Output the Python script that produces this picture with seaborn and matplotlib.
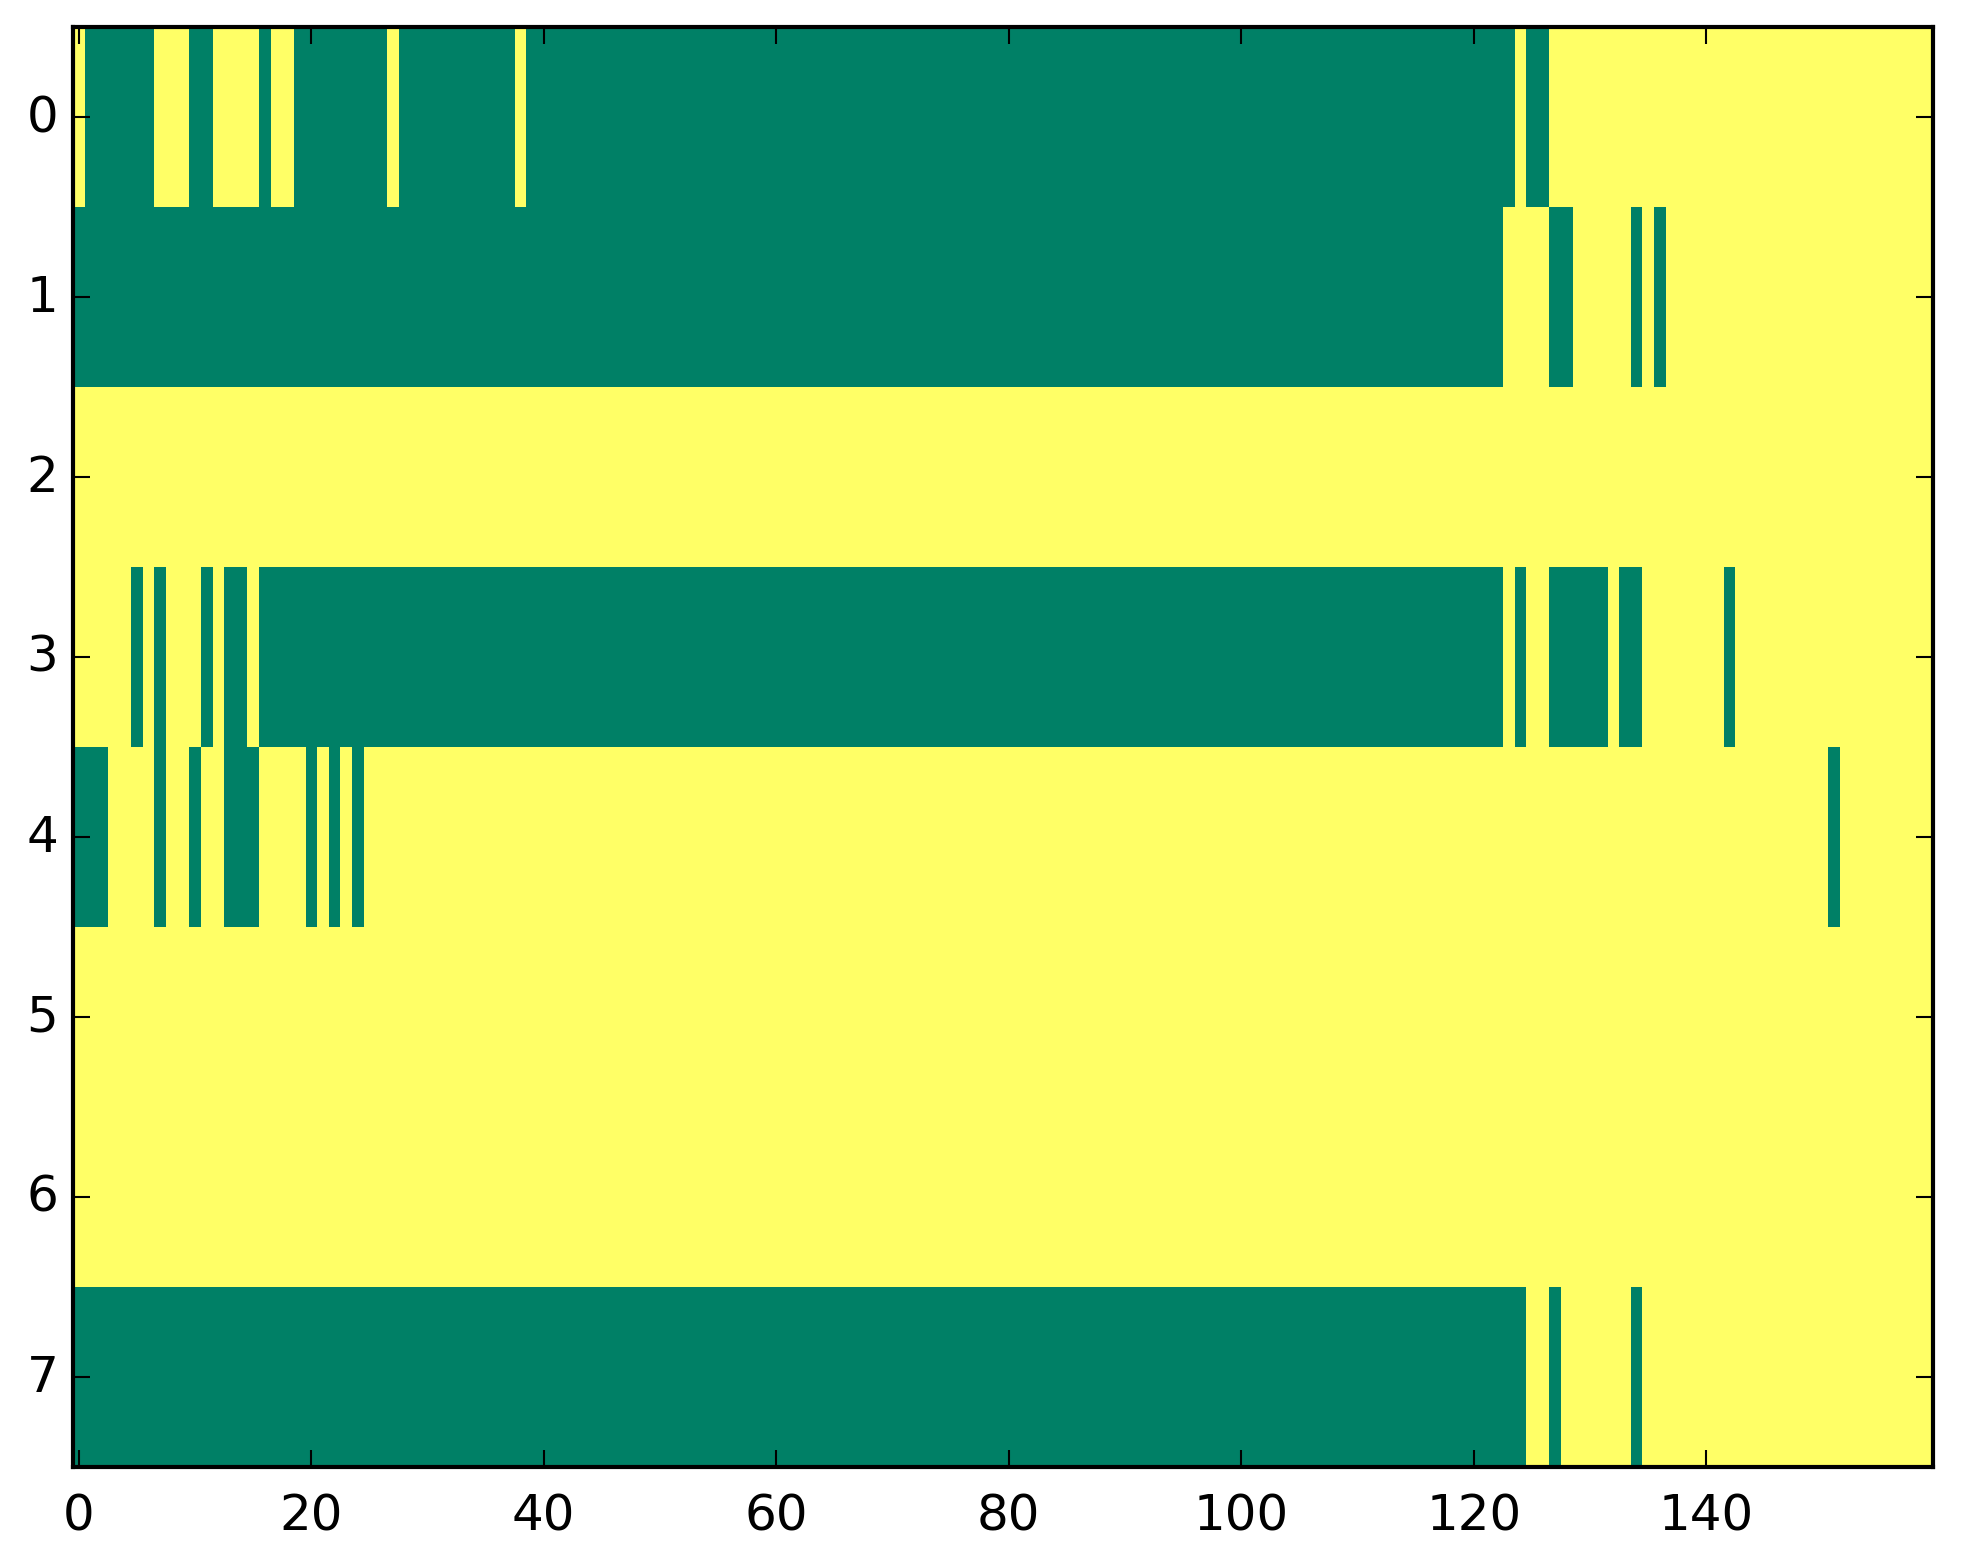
import numpy as np
import matplotlib
matplotlib.use("Agg")
import matplotlib.pyplot as plt
import seaborn as sns

# Data: binary matrix 8 rows x 160 columns; 0 = green (low), 1 = yellow (high)
n_rows = 8
n_cols = 160
# Columns (inclusive ranges) whose value is 0 in each row; everything else is 1
row0_zero = [(1, 6), (10, 11), (16, 16), (19, 26), (28, 37), (39, 123), (125, 126)]
row1_zero = [(0, 122), (127, 128), (134, 134), (136, 136)]
row2_zero = []
row3_zero = [(5, 5), (7, 7), (11, 11), (13, 14), (16, 122), (124, 124),
             (127, 131), (133, 134), (142, 142)]
row4_zero = [(0, 2), (7, 7), (10, 10), (13, 15), (20, 20), (22, 22), (24, 24),
             (151, 151)]
row5_zero = []
row6_zero = []
row7_zero = [(0, 124), (127, 127), (134, 134)]
rows_zero = [row0_zero, row1_zero, row2_zero, row3_zero,
             row4_zero, row5_zero, row6_zero, row7_zero]

x_tick_values = [0, 20, 40, 60, 80, 100, 120, 140]
y_tick_values = list(range(n_rows))

matrix = np.ones((n_rows, n_cols))
for r, spans in enumerate(rows_zero):
    for a, b in spans:
        matrix[r, a:b + 1] = 0

plt.style.use("classic")
plt.rcParams["font.family"] = ["DejaVu Sans"]
plt.rcParams["font.size"] = 12

W, H, DPI = 1963, 1564, 300
fig = plt.figure(figsize=(W / DPI, H / DPI), dpi=DPI, facecolor="white")
ax = fig.add_axes([73 / W, 1 - 1468 / H, 1860 / W, 1440 / H])

sns.heatmap(matrix, cmap="summer", vmin=0, vmax=1, cbar=False,
            xticklabels=False, yticklabels=False, ax=ax)

for sp in ax.spines.values():
    sp.set_visible(True)
    sp.set_linewidth(1.0)
    sp.set_color("black")

ax.set_xticks([v + 0.5 for v in x_tick_values])
ax.set_xticklabels([str(v) for v in x_tick_values], rotation=0)
ax.set_yticks([v + 0.5 for v in y_tick_values])
ax.set_yticklabels([str(v) for v in y_tick_values], rotation=0, va="center")
ax.tick_params(axis="both", direction="in", top=True, right=True,
               length=4, width=0.5, labelsize=12, color="black")
ax.tick_params(axis="x", pad=6)
ax.tick_params(axis="y", pad=3.5)
ax.set_xlim(0, n_cols)
ax.set_ylim(n_rows, 0)

fig.savefig("out.png", dpi=DPI, facecolor="white")
